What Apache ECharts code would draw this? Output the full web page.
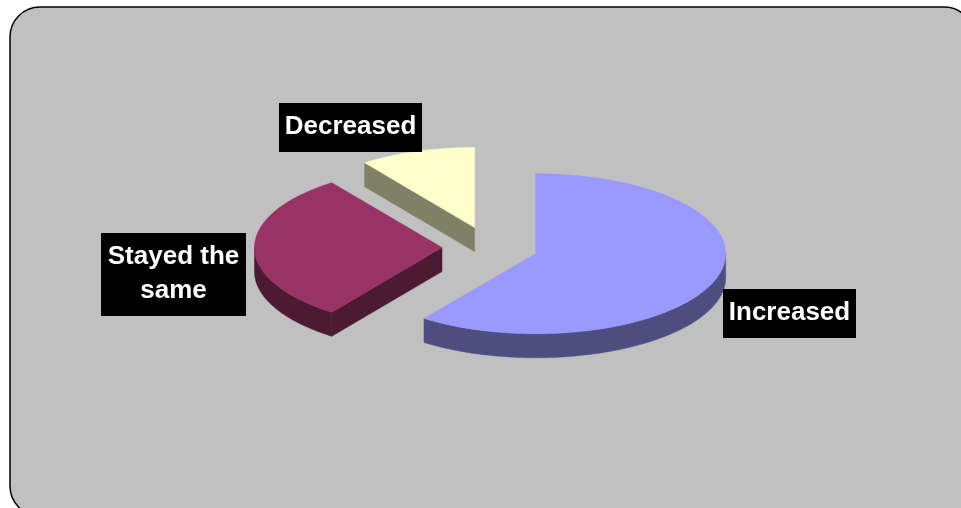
<!DOCTYPE html>
<html>
<head>
<meta charset="utf-8">
<style>html,body{margin:0;padding:0;background:#fff}#c{width:961px;height:508px}</style>
<script src="https://cdn.jsdelivr.net/npm/echarts@6/dist/echarts.min.js"></script>
</head>
<body>
<div id="c"></div>
<script>
const categories = ['Increased', 'Stayed the\nsame', 'Decreased'];
const shares = [60, 30, 10];
const topColors = ['#9999FF', '#993366', '#FFFFCC'];
const wallColors = ['#4D4D80', '#4D1A33', '#808066'];
const explode = [48, 48, 50];
const radii = [190, 187.5, 187];
const labelBoxes = [[723, 289, 133, 49], [101, 233, 145, 83], [279, 103, 143, 49]];

const center = [490, 247.5], ry = 80, baseRx = 190, depth = 24;
const total = shares.reduce((a, b) => a + b, 0);
const rad = d => d * Math.PI / 180;

function renderSlice(params, api) {
  const i = params.dataIndex;
  let before = 0;
  for (let k = 0; k < i; k++) before += shares[k];
  const start = before / total * 360;
  const end = start + api.value(0) / total * 360;
  const mid = rad((start + end) / 2);
  const rx = radii[i];
  const ax = center[0] + explode[i] * Math.sin(mid);
  const ay = center[1] - explode[i] * Math.cos(mid) * ry / baseRx;
  const rim = (deg, dz) => [ax + rx * Math.sin(rad(deg)), ay - ry * Math.cos(rad(deg)) + (dz || 0)];
  const wall = wallColors[i];
  const children = [];

  const face = pts => ({ type: 'polygon', shape: { points: pts }, style: { fill: wall, stroke: wall, lineWidth: 0.5 } });
  // radial walls that look toward the viewer
  [[start, -1], [end, 1]].forEach(([a, side]) => {
    if (side * Math.sin(rad(a)) > 1e-6) {
      children.push(face([[ax, ay], rim(a), rim(a, depth), [ax, ay + depth]]));
    }
  });
  // outer curved wall, front half of the ellipse only
  const from = Math.max(start, 90), to = Math.min(end, 270);
  if (to > from) {
    const upper = [], lower = [];
    for (let a = from; a <= to + 1e-6; a += 1) { upper.push(rim(a)); lower.unshift(rim(a, depth)); }
    children.push(face(upper.concat(lower)));
  }
  // top face
  const pts = [[ax, ay]];
  for (let a = start; a <= end + 1e-6; a += 1) pts.push(rim(a));
  children.push({ type: 'polygon', shape: { points: pts }, style: { fill: topColors[i], stroke: topColors[i], lineWidth: 0.5 } });
  // label
  const b = labelBoxes[i];
  children.push({ type: 'rect', shape: { x: b[0], y: b[1], width: b[2], height: b[3] }, style: { fill: '#000' } });
  children.push({
    type: 'text',
    style: {
      x: b[0] + b[2] / 2, y: b[1] + b[3] / 2 - 1,
      text: categories[i], fill: '#fff',
      font: 'bold 26px "Liberation Sans", Arial, sans-serif',
      lineHeight: 34, align: 'center', verticalAlign: 'middle'
    }
  });
  return { type: 'group', children };
}

const chart = echarts.init(document.getElementById('c'), null, { renderer: 'canvas' });
chart.setOption({
  animation: false,
  backgroundColor: '#fff',
  graphic: [{
    type: 'rect', z: -1,
    shape: { x: 10, y: 7, width: 964, height: 509, r: 30 },
    style: { fill: '#C0C0C0', stroke: '#000', lineWidth: 1.5 }
  }],
  series: [{
    type: 'custom',
    coordinateSystem: 'none',
    renderItem: renderSlice,
    data: shares.map((v, i) => ({ value: [v], name: categories[i] }))
  }]
});
</script>
</body>
</html>
